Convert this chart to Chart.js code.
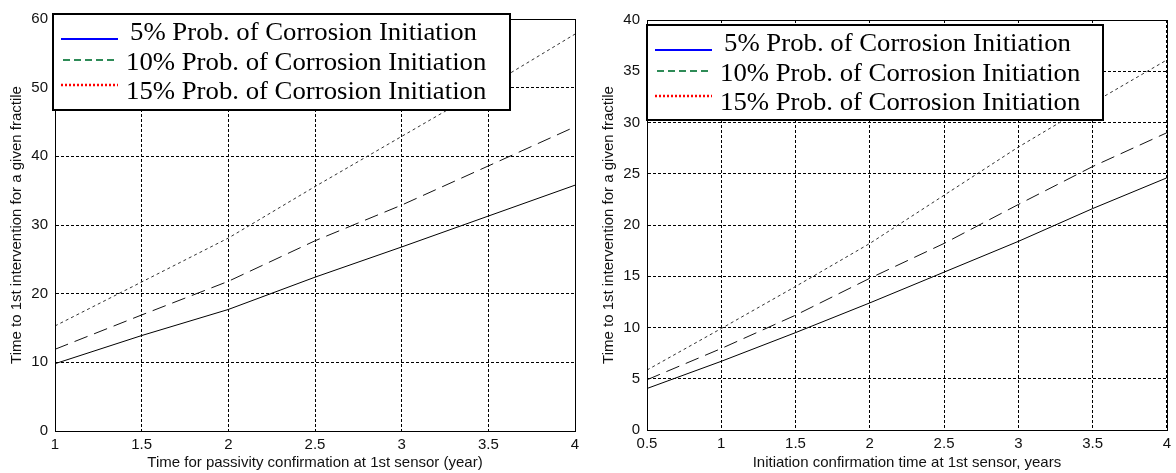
<!DOCTYPE html>
<html>
<head>
<meta charset="utf-8">
<script src="https://cdn.jsdelivr.net/npm/chart.js@4"></script>
<style>
  html, body { margin: 0; padding: 0; background: #fff; }
  #wrap { position: relative; width: 1176px; height: 473px; }
  canvas { position: absolute; top: 0; }
  #c1 { left: 0; }
  #c2 { left: 590px; }
</style>
</head>
<body>
<div id="wrap">
  <canvas id="c1" width="590" height="473"></canvas>
  <canvas id="c2" width="586" height="473"></canvas>
</div>
<script>
// ---- values ----
const passivityYears = [1, 1.5, 2, 2.5, 3, 3.5, 4];
const passivity5  = [9.8, 13.9, 17.7, 22.4, 26.8, 31.3, 35.8];
const passivity10 = [11.9, 16.9, 21.8, 27.7, 32.9, 38.6, 44.3];
const passivity15 = [15.3, 21.7, 28.1, 35.6, 42.9, 50.2, 57.8];

const initiationYears = [0.5, 1, 1.5, 2, 2.5, 3, 3.5, 4];
const initiation5  = [4.05, 6.7, 9.5, 12.4, 15.4, 18.4, 21.6, 24.6];
const initiation10 = [4.9, 7.95, 11.2, 14.8, 18.2, 22.0, 25.7, 29.0];
const initiation15 = [5.85, 9.9, 14.0, 18.2, 22.9, 27.6, 31.9, 36.1];

const leftXTicks  = [1, 1.5, 2, 2.5, 3, 3.5, 4];
const leftYTicks  = [0, 10, 20, 30, 40, 50, 60];
const rightXTicks = [0.5, 1, 1.5, 2, 2.5, 3, 3.5, 4];
const rightYTicks = [0, 5, 10, 15, 20, 25, 30, 35, 40];

const legendLabels = [
  '5% Prob. of Corrosion Initiation',
  '10% Prob. of Corrosion Initiation',
  '15% Prob. of Corrosion Initiation',
];
const yTitle = 'Time to 1st intervention for a given fractile';

const SANS = '"Liberation Sans", Arial, Helvetica, sans-serif';
const SERIF = '"Liberation Serif", "Times New Roman", serif';

// black box round the plot area (MATLAB style axes)
const frame = {
  id: 'frame',
  afterDatasetsDraw(chart) {
    const a = chart.chartArea, ctx = chart.ctx;
    ctx.save();
    ctx.strokeStyle = '#000';
    ctx.lineWidth = 1;
    ctx.strokeRect(Math.round(a.left) + 0.5, Math.round(a.top) + 0.5,
                   Math.round(a.right - a.left), Math.round(a.bottom - a.top));
    ctx.restore();
  },
};

// legend box drawn inside the axes, top-left; sample colours differ from the plotted lines
const boxLegend = {
  id: 'boxLegend',
  afterDraw(chart, args, o) {
    const ctx = chart.ctx, a = chart.chartArea;
    const x = a.left + o.dx, y = a.top + o.dy, w = o.w, h = o.h;
    const sampleY = [25, 46, 71];
    const baseY = [26, 56, 85];
    const textX = [77, 73, 73];
    ctx.save();
    ctx.fillStyle = '#fff';
    ctx.fillRect(x, y, w, h);
    ctx.lineWidth = 2;
    ctx.strokeStyle = '#000';
    ctx.strokeRect(x, y, w, h);
    chart.data.datasets.forEach((ds, i) => {
      const sy = y + sampleY[i];
      ctx.beginPath();
      ctx.setLineDash(ds.legendDash);
      ctx.lineDashOffset = ds.legendDashOffset || 0;
      ctx.strokeStyle = ds.legendColor;
      ctx.lineWidth = ds.legendWidth;
      ctx.moveTo(x + 8, sy);
      ctx.lineTo(x + 65, sy);
      ctx.stroke();
      ctx.setLineDash([]);
      ctx.save();
      ctx.fillStyle = '#000';
      ctx.font = '25px ' + SERIF;
      ctx.textBaseline = 'alphabetic';
      ctx.translate(x + textX[i], y + baseY[i]);
      ctx.scale(1.07, 1);
      ctx.fillText(ds.label, 0, 0);
      ctx.restore();
    });
    ctx.restore();
  },
};

function series(xs, ys) {
  return xs.map((x, i) => ({ x, y: ys[i] }));
}

function datasets(xs, s5, s10, s15) {
  const common = { borderWidth: 1, pointRadius: 0, tension: 0, fill: false };
  return [
    Object.assign({ label: legendLabels[0], data: series(xs, s5), borderColor: '#000', borderDash: [],
      legendColor: '#0000ff', legendDash: [], legendWidth: 2 }, common),
    Object.assign({ label: legendLabels[1], data: series(xs, s10), borderColor: '#111', borderDash: [14, 7],
      legendColor: '#2e8b57', legendDash: [7, 4], legendDashOffset: 9, legendWidth: 2 }, common),
    Object.assign({ label: legendLabels[2], data: series(xs, s15), borderColor: '#333', borderDash: [3, 3],
      legendColor: '#ff0000', legendDash: [2, 2], legendWidth: 2.5 }, common),
  ];
}

function fmt(v) { return String(v); }

function build(id, o) {
  const el = document.getElementById(id);
  return new Chart(el.getContext('2d'), {
    type: 'line',
    data: { datasets: datasets(o.xs, o.s5, o.s10, o.s15) },
    options: {
      responsive: false,
      animation: false,
      events: [],
      layout: { padding: { top: o.padTop, right: o.padRight, left: 0, bottom: 0 } },
      plugins: {
        legend: { display: false },
        tooltip: { enabled: false },
        boxLegend: o.legend,
      },
      scales: {
        x: {
          type: 'linear',
          min: o.xTicks[0], max: o.xTicks[o.xTicks.length - 1],
          afterBuildTicks: (s) => { s.ticks = o.xTicks.map(v => ({ value: v })); },
          afterFit: (s) => { s.height = o.xAxisH; },
          grid: { color: '#000', lineWidth: 1, drawTicks: false },
          border: { display: true, color: '#000', dash: [3, 2] },
          ticks: { color: '#111', font: { family: SANS, size: 15 }, padding: 5, maxRotation: 0,
                   autoSkip: false, callback: (v) => fmt(v) },
          title: { display: true, text: o.xTitle, color: '#111', font: { family: SANS, size: 15 },
                   padding: { top: 0, bottom: 1 } },
        },
        y: {
          min: 0, max: o.yTicks[o.yTicks.length - 1],
          afterBuildTicks: (s) => { s.ticks = o.yTicks.map(v => ({ value: v })); },
          afterFit: (s) => { s.width = o.yAxisW; },
          grid: { color: '#000', lineWidth: 1, drawTicks: false },
          border: { display: true, color: '#000', dash: [3, 2] },
          ticks: { color: '#111', font: { family: SANS, size: 15 }, padding: 7, callback: (v) => fmt(v) },
          title: { display: true, text: yTitle, color: '#111', font: { family: SANS, size: 15 },
                   padding: { top: o.yTitlePad, bottom: 0 } },
        },
      },
    },
    plugins: [frame, boxLegend],
  });
}

build('c1', {
  xs: passivityYears, s5: passivity5, s10: passivity10, s15: passivity15,
  xTicks: leftXTicks, yTicks: leftYTicks,
  xTitle: 'Time for passivity confirmation at 1st sensor (year)',
  padTop: 19, padRight: 15, xAxisH: 42, yAxisW: 55, yTitlePad: 8,
  legend: { dx: -2, dy: -5, w: 457, h: 96 },
});

build('c2', {
  xs: initiationYears, s5: initiation5, s10: initiation10, s15: initiation15,
  xTicks: rightXTicks, yTicks: rightYTicks,
  xTitle: 'Initiation confirmation time at 1st sensor, years',
  padTop: 20, padRight: 7, xAxisH: 43, yAxisW: 57, yTitlePad: 10,
  legend: { dx: 0, dy: 5, w: 456, h: 95 },
});
</script>
</body>
</html>
